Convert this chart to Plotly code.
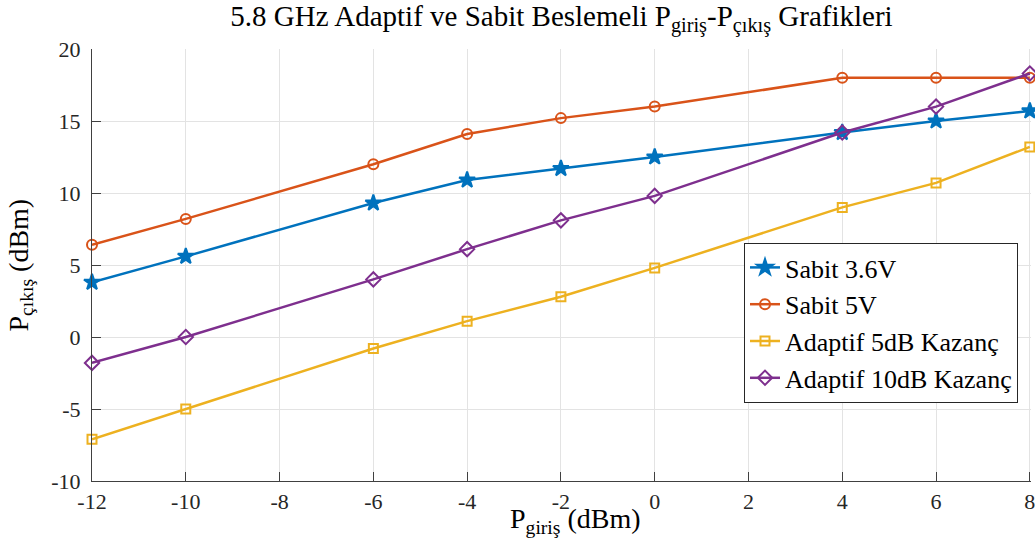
import plotly.graph_objects as go

p_giris = [-12, -10, -6, -4, -2, 0, 4, 6, 8]
sabit_36 = [3.8, 5.6, 9.3, 10.9, 11.7, 12.5, 14.2, 15.0, 15.7]
sabit_5 = [6.4, 8.2, 12.0, 14.1, 15.2, 16.0, 18.0, 18.0, 18.0]
adaptif_5db = [-7.1, -5.0, -0.8, 1.1, 2.8, 4.8, 9.0, 10.7, 13.2]
adaptif_10db = [-1.8, 0.0, 4.0, 6.1, 8.1, 9.8, 14.2, 16.0, 18.3]

names = ["Sabit 3.6V", "Sabit 5V", "Adaptif 5dB Kazanç", "Adaptif 10dB Kazanç"]
x_ticks = [-12, -10, -8, -6, -4, -2, 0, 2, 4, 6, 8]
y_ticks = [-10, -5, 0, 5, 10, 15, 20]

series = [sabit_36, sabit_5, adaptif_5db, adaptif_10db]
colors = ["#0072BD", "#D95319", "#EDB120", "#7E2F8E"]
symbols = ["star", "circle-open", "square-open", "diamond-open"]
sizes = [12, 10, 9, 11]

FONT = "Liberation Serif, Times New Roman, serif"

fig = go.Figure()
for ys, name, c, s, sz in zip(series, names, colors, symbols, sizes):
    fig.add_trace(go.Scatter(
        x=p_giris, y=ys, name=name, mode="lines+markers",
        line=dict(color=c, width=2.5),
        marker=dict(symbol=s, size=sz, color=c, line=dict(color=c, width=2)),
        cliponaxis=False,
    ))

W, H = 1035, 542
L, R, T, B = 92, 4, 49, 61
PW, PH = W - L - R, H - T - B

fig.update_layout(
    width=W, height=H,
    margin=dict(l=L, r=R, t=T, b=B, autoexpand=False),
    paper_bgcolor="white", plot_bgcolor="white",
    font=dict(family=FONT, size=22, color="#262626"),
    title=dict(
        text="5.8 GHz Adaptif ve Sabit Beslemeli P<sub>giriş</sub>-P<sub>çıkış</sub> Grafikleri",
        x=0.5, xref="paper", xanchor="center",
        y=1 - 6 / H, yref="container", yanchor="top",
        font=dict(family=FONT, size=29, color="black"),
        automargin=False,
    ),
    showlegend=True,
    legend=dict(
        x=(744 - L) / PW, y=(H - B - 243) / PH,
        xanchor="left", yanchor="top",
        bgcolor="white", bordercolor="#262626", borderwidth=1,
        font=dict(family=FONT, size=26, color="black"),
        itemwidth=30, tracegroupgap=0,
    ),
    xaxis=dict(
        range=[-12, 8.025], tickmode="array", tickvals=x_ticks,
        ticktext=[str(v) for v in x_ticks],
        showgrid=True, gridcolor="#e3e3e3", gridwidth=1,
        zeroline=False, showline=True, linecolor="#404040", linewidth=1,
        ticks="inside", ticklen=9, tickcolor="#404040",
        tickfont=dict(family=FONT, size=22, color="#262626"),
        automargin=False, ticklabelstandoff=1, ticklabeloverflow="allow",
    ),
    yaxis=dict(
        range=[-10, 20], tickmode="array", tickvals=y_ticks,
        ticktext=[str(v) for v in y_ticks],
        showgrid=True, gridcolor="#e3e3e3", gridwidth=1,
        zeroline=False, showline=True, linecolor="#404040", linewidth=1,
        ticks="inside", ticklen=9, tickcolor="#404040",
        tickfont=dict(family=FONT, size=22, color="#262626"),
        automargin=False, ticklabelstandoff=6, ticklabeloverflow="allow",
    ),
)

fig.add_annotation(
    text="P<sub>giriş</sub> (dBm)",
    xref="paper", yref="paper",
    x=(508 - L) / PW, y=-(520 - (H - B)) / PH,
    xanchor="left", yanchor="middle", showarrow=False,
    font=dict(family=FONT, size=28, color="black"),
)

fig.add_annotation(
    text="P<sub>çıkış</sub> (dBm)",
    xref="paper", yref="paper",
    x=(0 - L) / PW, y=(H - B - 265) / PH,
    xanchor="left", yanchor="middle", showarrow=False, textangle=-90,
    font=dict(family=FONT, size=28, color="black"),
)

fig.write_html(
    "out.html",
    config={"displayModeBar": False},
    post_script="document.body.style.margin='0';document.body.style.overflow='hidden';",
)
